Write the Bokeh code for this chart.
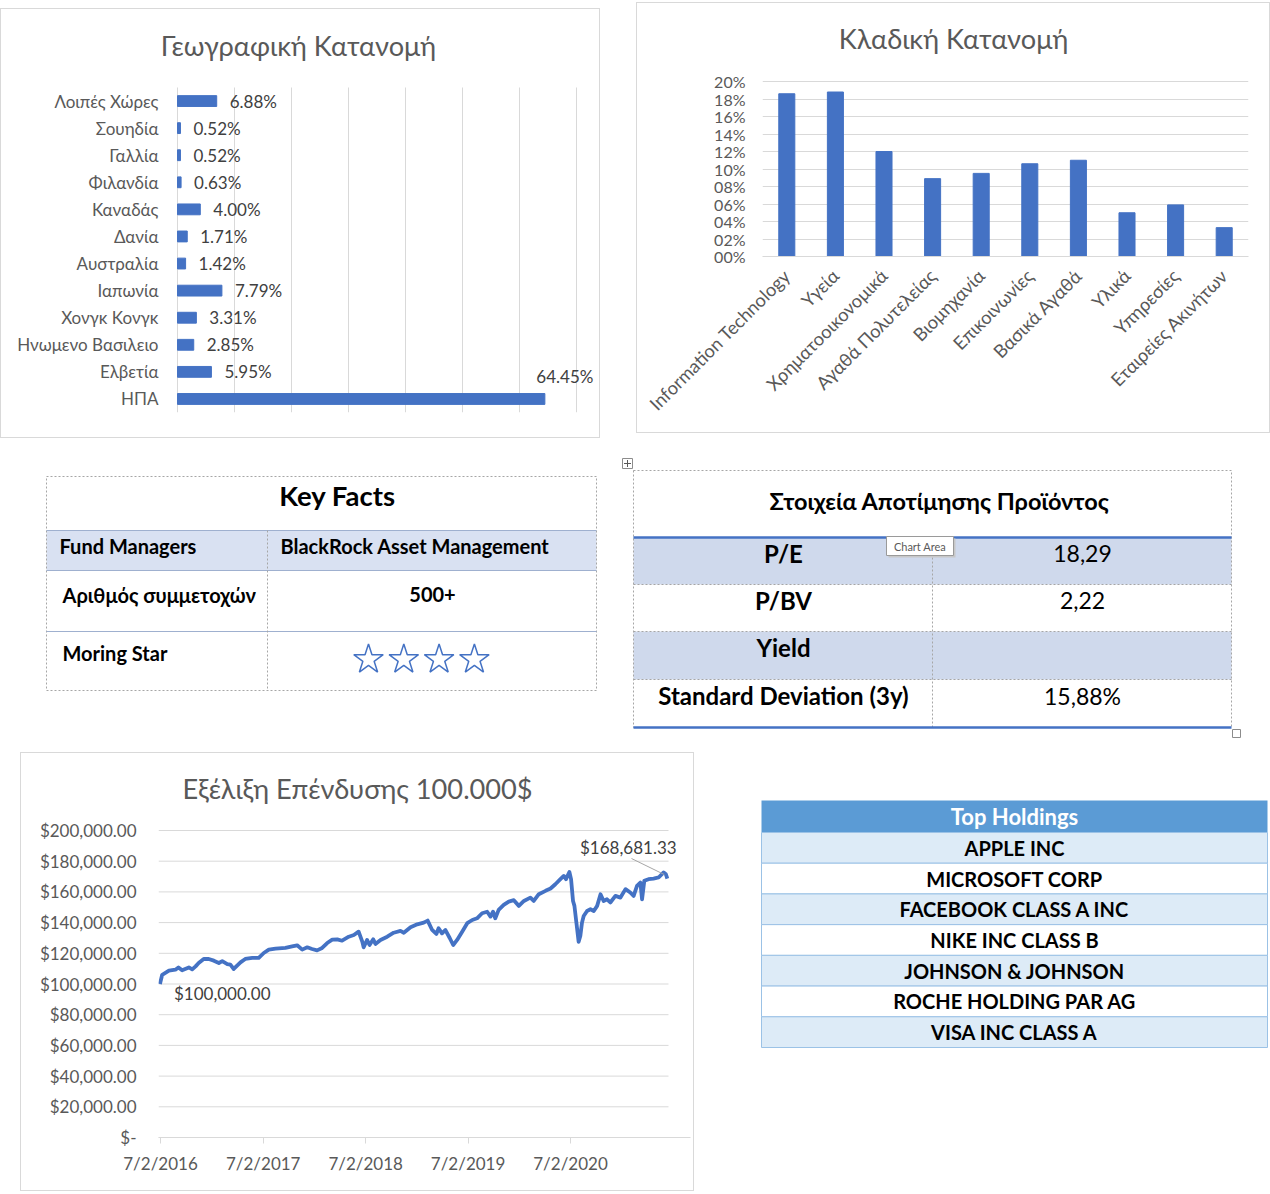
import math
from datetime import datetime, timezone
from bokeh.plotting import figure
from bokeh.models import Range1d, FactorRange, FixedTicker, CustomJSTickFormatter, Spacer
from bokeh.layouts import row, column
from bokeh.core.properties import value
from bokeh.embed import file_html
from bokeh.resources import INLINE

FONT = "Lato"
BLUE = "#4472C4"
GRID = "#d9d9d9"
AXIS_TXT = "#595959"
LABEL_TXT = "#404040"
TITLE_SIZE = "27.2px"

# ---------------- data ----------------
countries = ["Λοιπές Χώρες", "Σουηδία", "Γαλλία", "Φιλανδία", "Καναδάς", "Δανία",
             "Αυστραλία", "Ιαπωνία", "Χονγκ Κονγκ", "Ηνωμενο Βασιλειο", "Ελβετία", "ΗΠΑ"]
country_pct = [6.88, 0.52, 0.52, 0.63, 4.00, 1.71, 1.42, 7.79, 3.31, 2.85, 5.95, 64.45]

sectors = ["Information Technology", "Υγεία", "Χρηματοοικονομικά", "Αγαθά Πολυτελείας",
           "Βιομηχανία", "Επικοινωνίες", "Βασικά Αγαθά", "Υλικά", "Υπηρεσίες", "Εταιρείες Ακινήτων"]
sector_pct = [18.6, 18.8, 12.0, 8.9, 9.5, 10.6, 11.0, 5.0, 5.9, 3.3]

inv_dates = [
    "2016-02-05", "2016-02-13", "2016-03-08", "2016-03-31", "2016-04-11", "2016-04-24",
    "2016-05-18", "2016-05-30", "2016-06-11", "2016-06-22", "2016-07-10", "2016-07-28",
    "2016-08-15", "2016-09-02", "2016-09-14", "2016-10-02", "2016-10-13", "2016-10-25",
    "2016-11-06", "2016-11-18", "2016-12-05", "2016-12-30", "2017-01-22", "2017-02-09",
    "2017-02-27", "2017-03-23", "2017-04-27", "2017-05-21", "2017-06-08", "2017-06-26",
    "2017-07-14", "2017-07-31", "2017-08-18", "2017-09-05", "2017-09-23", "2017-10-11",
    "2017-10-29", "2017-11-15", "2017-12-09", "2017-12-27", "2018-01-13", "2018-01-26",
    "2018-01-31", "2018-02-12", "2018-02-21", "2018-03-06", "2018-03-14", "2018-04-01",
    "2018-04-25", "2018-05-18", "2018-06-11", "2018-06-23", "2018-07-17", "2018-08-10",
    "2018-09-02", "2018-09-16", "2018-10-02", "2018-10-17", "2018-10-25", "2018-11-06",
    "2018-11-18", "2018-12-04", "2018-12-16", "2018-12-30", "2019-01-17", "2019-02-04",
    "2019-02-22", "2019-03-11", "2019-03-29", "2019-04-16", "2019-04-28", "2019-05-07",
    "2019-05-15", "2019-05-27", "2019-06-14", "2019-07-02", "2019-07-20", "2019-08-07",
    "2019-08-25", "2019-09-17", "2019-09-29", "2019-10-17", "2019-11-10", "2019-11-28",
    "2019-12-15", "2020-01-02", "2020-01-14", "2020-01-22", "2020-02-03", "2020-02-09",
    "2020-02-16", "2020-02-21", "2020-02-28", "2020-03-07", "2020-03-13", "2020-03-19",
    "2020-03-25", "2020-04-06", "2020-04-18", "2020-04-30", "2020-05-12", "2020-05-24",
    "2020-06-04", "2020-06-16", "2020-06-28", "2020-07-16", "2020-08-03", "2020-08-21",
    "2020-09-07", "2020-09-19", "2020-10-01", "2020-10-13", "2020-10-19", "2020-10-27",
    "2020-11-11", "2020-11-29", "2020-12-17", "2021-01-04", "2021-01-12", "2021-01-17",
]
inv_value = [
    100000.00, 106000, 108700, 109300, 110800, 108900,
    110800, 109500, 111500, 113700, 116300, 116300,
    115200, 113700, 114900, 113000, 112600, 109800,
    112000, 114100, 116300, 117000, 117000, 120200,
    122400, 123000, 123500, 124500, 125200, 122400,
    123900, 122800, 121900, 123500, 126700, 128900,
    129100, 128200, 130800, 131900, 134100, 127600,
    123900, 128700, 125400, 129100, 126100, 128700,
    130800, 133400, 134600, 133400, 137000, 138900,
    140000, 141300, 135200, 132600, 136300, 133000,
    135200, 129800, 125400, 128700, 134100, 139600,
    141700, 142800, 146100, 147100, 143900, 147100,
    142800, 148300, 151500, 153700, 154600, 150900,
    154100, 156300, 154100, 158500, 160700, 162200,
    165000, 168300, 170400, 168300, 173000, 168300,
    154100, 150900, 140000, 127500, 131300, 140000,
    144300, 147600, 148700, 147600, 150900, 158500,
    154100, 155200, 153100, 157400, 156300, 161800,
    159600, 157400, 163900, 166100, 155200, 167200,
    168300, 168700, 169400, 172700, 171500, 168681.33,
]
year_ticks = ["2016-02-07", "2017-02-07", "2018-02-07", "2019-02-07", "2020-02-07"]
value_ticks = [0, 20000, 40000, 60000, 80000, 100000, 120000, 140000, 160000, 180000, 200000]
share_ticks = [0.0, 0.1, 0.2, 0.3, 0.4, 0.5, 0.6, 0.7]
sector_ticks = [0.0, 0.02, 0.04, 0.06, 0.08, 0.10, 0.12, 0.14, 0.16, 0.18, 0.20]

kf_title = "Key Facts"
kf_labels = ["Fund Managers", "Αριθμός συμμετοχών", "Moring Star"]
kf_values = ["BlackRock Asset Management", "500+", ""]
kf_stars = 4

val_title = "Στοιχεία Αποτίμησης Προϊόντος"
val_labels = ["P/E", "P/BV", "Yield", "Standard Deviation (3y)"]
val_values = ["18,29", "2,22", "", "15,88%"]

holdings_title = "Top Holdings"
holdings = ["APPLE INC", "MICROSOFT CORP", "FACEBOOK CLASS A INC", "NIKE INC CLASS B",
            "JOHNSON & JOHNSON", "ROCHE HOLDING PAR AG", "VISA INC CLASS A"]


def ms(s):
    d = datetime.strptime(s, "%Y-%m-%d").replace(tzinfo=timezone.utc)
    return d.timestamp() * 1000.0


BOX = {"outline": "1px solid #d9d9d9"}

# ---------------- Geographic allocation (horizontal bars) ----------------
# element box on the page: x 1..599, y 9..437
G_X0, G_Y0, G_W, G_H = 1, 9, 598, 428
G_FL, G_FR, G_FT, G_FB = 152, 597, 10, 412      # frame edges (page px)
G_ZERO = 177                                     # page x of the 0 % line
G_LABEL_END = 158                                # page x where category names end
G_BAND_TOP = 87                                  # top of first category band
G_PX_X = 570.0                                   # px per 100 %
n_c = len(countries)
band = (G_FB - G_BAND_TOP) / n_c
geo_pos = list(range(n_c - 1, -1, -1))           # first country on top
geo = figure(width=G_W, height=G_H, title=None,
             x_range=Range1d((G_FL - G_ZERO) / G_PX_X, (G_FR - G_ZERO) / G_PX_X),
             y_range=Range1d(-0.5, n_c - 0.5 + (G_BAND_TOP - G_FT) / band),
             toolbar_location=None, output_backend="svg",
             min_border_left=G_FL - G_X0, min_border_right=G_X0 + G_W - G_FR,
             min_border_top=G_FT - G_Y0, min_border_bottom=G_Y0 + G_H - G_FB)
geo.outline_line_color = None
geo.styles = BOX
geo.xaxis.visible = False
geo.xgrid.grid_line_color = None
geo.ygrid.grid_line_color = None
geo.segment(x0=share_ticks, x1=share_ticks, y0=[-0.5] * len(share_ticks),
            y1=[n_c - 0.5] * len(share_ticks), line_color=GRID, line_width=1)
geo.yaxis.ticker = FixedTicker(ticks=geo_pos)
geo.yaxis.formatter = CustomJSTickFormatter(
    args=dict(names=countries), code="return names[names.length - 1 - Math.round(tick)];")
geo.yaxis.axis_line_color = None
geo.yaxis.major_tick_line_color = None
geo.yaxis.major_tick_in = 0
geo.yaxis.major_tick_out = 0
geo.yaxis.major_label_standoff = G_FL - G_LABEL_END
geo.yaxis.major_label_text_font = FONT
geo.yaxis.major_label_text_font_size = "17px"
geo.yaxis.major_label_text_color = AXIS_TXT

geo_share = [v / 100 for v in country_pct]
geo.hbar(y=geo_pos, left=0, right=geo_share, height=0.4, color=BLUE)
geo.text(x=geo_share[:-1], y=geo_pos[:-1], text=[f"{v:.2f}%" for v in country_pct[:-1]],
         x_offset=13, text_align="left", text_baseline="middle",
         text_font=value(FONT), text_font_size="17px", text_color=LABEL_TXT)
geo.text(x=geo_share[-1:], y=geo_pos[-1:], text=[f"{country_pct[-1]:.2f}%"],
         x_offset=20, y_offset=-22, text_align="center", text_baseline="middle",
         text_font=value(FONT), text_font_size="17px", text_color=LABEL_TXT)
geo.text(x=[(298 - G_ZERO) / G_PX_X], y=[n_c - 0.5 + (G_BAND_TOP - 45) / band],
         text=["Γεωγραφική Κατανομή"], text_align="center", text_baseline="middle",
         text_font=value(FONT), text_font_size=TITLE_SIZE, text_color=AXIS_TXT)

# ---------------- Sector allocation (vertical bars) ----------------
# element box: x 637..1269, y 3..432
S_X0, S_Y0, S_W, S_H = 637, 3, 632, 429
S_FL, S_FR, S_FT, S_FB = 762, 1248, 4, 256
S_TOP20 = 81                                     # page y of the 20 % gridline
s_px = (S_FB - S_TOP20) / 0.20
sector = figure(width=S_W, height=S_H, title=None,
                x_range=FactorRange(factors=sectors),
                y_range=Range1d(0, 0.20 + (S_TOP20 - S_FT) / s_px),
                toolbar_location=None, output_backend="svg",
                min_border_left=S_FL - S_X0, min_border_right=S_X0 + S_W - S_FR,
                min_border_top=S_FT - S_Y0, min_border_bottom=S_Y0 + S_H - S_FB)
sector.outline_line_color = None
sector.styles = BOX
sector.xgrid.grid_line_color = None
sector.ygrid.grid_line_color = GRID
sector.yaxis.ticker = FixedTicker(ticks=sector_ticks)
sector.yaxis.formatter = CustomJSTickFormatter(
    code="return String(Math.round(tick*100)).padStart(2,'0') + '%';")
sector.yaxis.axis_line_color = None
sector.yaxis.major_tick_line_color = None
sector.yaxis.major_tick_in = 0
sector.yaxis.major_tick_out = 0
sector.yaxis.major_label_standoff = 17
sector.xaxis.axis_line_color = GRID
sector.xaxis.major_tick_line_color = None
sector.xaxis.major_tick_in = 0
sector.xaxis.major_tick_out = 0
sector.xaxis.major_label_standoff = 16
sector.xaxis.major_label_orientation = math.pi / 4
for ax in (sector.xaxis, sector.yaxis):
    ax.major_label_text_font = FONT
    ax.major_label_text_color = AXIS_TXT
sector.yaxis.major_label_text_font_size = "16px"
sector.xaxis.major_label_text_font_size = "18.3px"
sector.vbar(x=sectors, top=[v / 100 for v in sector_pct], width=0.33, color=BLUE)
sector.text(x=[len(sectors) * (953 - S_FL) / (S_FR - S_FL)],
            y=[0.20 + (S_TOP20 - 38) / s_px], text=["Κλαδική Κατανομή"],
            text_align="center", text_baseline="middle",
            text_font=value(FONT), text_font_size=TITLE_SIZE, text_color=AXIS_TXT)

# ---------------- Investment growth line ----------------
# element box: x 21..693, y 753..1190
L_X0, L_Y0, L_W, L_H = 21, 753, 672, 437
L_FL, L_FR, L_FT, L_FB = 158, 690, 754, 1137
L_TOP = 830                      # page y of the $200,000 gridline
L_GRID_END = 668                 # page x where the gridlines stop
L_TICK0_PX = 160
DAYS_PER_PX = 1461 / 410.0
MS_PER_DAY = 86400000.0
t0 = ms(year_ticks[0])


def lx(px):
    return t0 + (px - L_TICK0_PX) * DAYS_PER_PX * MS_PER_DAY


def ly(py):
    return 200000.0 * (L_FB - py) / (L_FB - L_TOP)


line = figure(width=L_W, height=L_H, title=None, x_axis_type="datetime",
              x_range=Range1d(lx(L_FL), lx(L_FR)), y_range=Range1d(0, ly(L_FT)),
              toolbar_location=None, output_backend="svg",
              min_border_left=L_FL - L_X0, min_border_right=L_X0 + L_W - L_FR,
              min_border_top=L_FT - L_Y0, min_border_bottom=L_Y0 + L_H - L_FB)
line.outline_line_color = None
line.styles = BOX
line.xgrid.grid_line_color = None
line.ygrid.grid_line_color = None
line.segment(x0=[lx(L_FL)] * len(value_ticks), x1=[lx(L_GRID_END)] * len(value_ticks),
             y0=value_ticks, y1=value_ticks, line_color=GRID, line_width=1)
line.xaxis.ticker = FixedTicker(ticks=[ms(s) for s in year_ticks])
line.xaxis.formatter = CustomJSTickFormatter(
    code="const d = new Date(tick); return d.getUTCDate() + '/' + (d.getUTCMonth()+1) + '/' + d.getUTCFullYear();")
line.xaxis.axis_line_color = GRID
line.xaxis.major_tick_line_color = GRID
line.xaxis.major_tick_in = 0
line.xaxis.major_tick_out = 6
line.xaxis.major_label_standoff = 9
line.yaxis.ticker = FixedTicker(ticks=value_ticks)
line.yaxis.formatter = CustomJSTickFormatter(
    code="if (tick == 0) { return '$-'; } return '$' + tick.toLocaleString('en-US', {minimumFractionDigits: 2, maximumFractionDigits: 2});")
line.yaxis.axis_line_color = None
line.yaxis.major_tick_line_color = None
line.yaxis.major_tick_in = 0
line.yaxis.major_tick_out = 0
line.yaxis.major_label_standoff = 22
for ax in (line.xaxis, line.yaxis):
    ax.major_label_text_font = FONT
    ax.major_label_text_font_size = "17px"
    ax.major_label_text_color = AXIS_TXT
inv_x = [ms(s) for s in inv_dates]
line.line(x=inv_x, y=inv_value, line_width=3.8, line_color=BLUE, line_join="round")
line.text(x=inv_x[:1], y=inv_value[:1], text=[f"${inv_value[0]:,.2f}"], x_offset=14, y_offset=9,
          text_align="left", text_baseline="middle", text_font=value(FONT),
          text_font_size="17px", text_color=LABEL_TXT)
line.text(x=inv_x[-1:], y=inv_value[-1:], text=[f"${inv_value[-1]:,.2f}"], x_offset=-39, y_offset=-31,
          text_align="center", text_baseline="middle", text_font=value(FONT),
          text_font_size="17px", text_color=LABEL_TXT)
line.segment(x0=[lx(631)], y0=[ly(858)], x1=[inv_x[-1] - 3 * DAYS_PER_PX * MS_PER_DAY],
             y1=[inv_value[-1] + 4 * 200000 / (L_FB - L_TOP)], line_color="#a6a6a6", line_width=1)
line.text(x=[lx(357)], y=[ly(788)], text=["Εξέλιξη Επένδυσης 100.000$"],
          text_align="center", text_baseline="middle", text_font=value(FONT),
          text_font_size=TITLE_SIZE, text_color=AXIS_TXT)


# ---------------- tables ----------------
def table_fig(w, h):
    p = figure(width=w, height=h, title=None, x_range=Range1d(0, w), y_range=Range1d(h, 0),
               toolbar_location=None, output_backend="svg", x_axis_type=None, y_axis_type=None,
               min_border=0)
    p.outline_line_color = None
    return p


def txt(p, xs, ys, texts, size, bold=True, align="center", color="black"):
    p.text(x=xs, y=ys, text=texts, text_align=align, text_baseline="middle",
           text_font=value(FONT), text_font_size=size,
           text_font_style="bold" if bold else "normal", text_color=color)


# Key facts  (figure at page 40,470)
kf = table_fig(570, 230)
KF_L, KF_R, KF_COL = 6, 556, 227
kf_edges = [6, 60, 100, 161, 220]
kf.quad(left=[KF_L], right=[KF_R], top=[kf_edges[1]], bottom=[kf_edges[2]],
        fill_color="#D9E1F2", line_color=None)
kf.quad(left=[KF_L], right=[KF_R], top=[kf_edges[0]], bottom=[kf_edges[-1]],
        fill_color=None, line_color="#a6a6a6", line_dash="2 2", line_width=1)
kf.segment(x0=[KF_L] * 3, x1=[KF_R] * 3, y0=kf_edges[1:4], y1=kf_edges[1:4],
           line_color="#9fb0cf", line_width=1)
kf.segment(x0=[KF_COL], x1=[KF_COL], y0=[kf_edges[1]], y1=[kf_edges[-1]],
           line_color="#a6a6a6", line_dash="2 2", line_width=1)
txt(kf, [297], [25], [kf_title], "27.5px")
kf_text_y = [75, 124, 182]
txt(kf, [19, 22, 22], kf_text_y, kf_labels, "20px", align="left")
txt(kf, [240], kf_text_y[:1], kf_values[:1], "20px", align="left")
txt(kf, [392], kf_text_y[1:2], kf_values[1:2], "20px")
kf.scatter(x=[328 + 35.3 * i for i in range(kf_stars)], y=[189] * kf_stars, marker="star",
           size=31, fill_color=None, line_color=BLUE, line_width=1.5)

# Valuation (figure at page 615,455)
val = table_fig(647, 290)
V_L, V_R, V_COL = 18, 616, 317
v_edges = [82, 129, 176, 224, 272]
val.quad(left=[V_L, V_L], right=[V_R, V_R], top=[v_edges[0], v_edges[2]],
         bottom=[v_edges[1], v_edges[3]], fill_color="#CFD9EC", line_color=None)
val.quad(left=[V_L], right=[V_R], top=[15], bottom=[v_edges[-1]], fill_color=None,
         line_color="#a6a6a6", line_dash="2 2", line_width=1)
val.segment(x0=[V_L] * 3, x1=[V_R] * 3, y0=v_edges[1:4], y1=v_edges[1:4],
            line_color="#a6a6a6", line_dash="2 2", line_width=1)
val.segment(x0=[V_COL], x1=[V_COL], y0=[v_edges[0]], y1=[v_edges[-1]],
            line_color="#a6a6a6", line_dash="2 2", line_width=1)
val.segment(x0=[V_L, V_L], x1=[V_R, V_R], y0=[v_edges[0], v_edges[-1]], y1=[v_edges[0], v_edges[-1]],
            line_color=BLUE, line_width=2.5)
txt(val, [324], [45], [val_title], "23.5px")
val_text_y = [e + 16 for e in v_edges[:4]]
txt(val, [168] * 4, val_text_y, val_labels, "24px")
txt(val, [467] * 4, val_text_y, val_values, "23px", bold=False)
# editor artefacts: move handle, resize handle and "Chart Area" tooltip
val.quad(left=[7, 617], right=[17, 625], top=[3, 274], bottom=[13, 282],
         fill_color="white", line_color="#8c8c8c", line_width=1)
val.scatter(x=[12], y=[8], marker="cross", size=7, line_color="#595959", line_width=1)
val.quad(left=[273], right=[340], top=[83], bottom=[102], fill_color="#c8c8c8", line_color=None)
val.quad(left=[271], right=[338], top=[81], bottom=[100], fill_color="white",
         line_color="#9a9a9a", line_width=1)
txt(val, [304.5], [90.5], ["Chart Area"], "11px", bold=False, color=AXIS_TXT)

# Top holdings (figure at page 755,795)
th = table_fig(515, 260)
H_L, H_R, H_TOP, H_HEAD, H_ROW = 6, 512, 5, 37, (1047 - 832) / 7
H_CX = 259
h_tops = [H_HEAD + i * H_ROW for i in range(len(holdings))]
th.quad(left=[H_L], right=[H_R], top=[H_TOP], bottom=[H_HEAD], fill_color="#5B9BD5", line_color=None)
th.quad(left=[H_L] * len(holdings), right=[H_R] * len(holdings), top=h_tops,
        bottom=[t + H_ROW for t in h_tops],
        fill_color=["#DDEBF7" if i % 2 == 0 else "white" for i in range(len(holdings))],
        line_color="#9BC2E6", line_width=1)
txt(th, [H_CX], [(H_TOP + H_HEAD) / 2], [holdings_title], "22px", color="white")
txt(th, [H_CX] * len(holdings), [t + H_ROW / 2 for t in h_tops], holdings, "20px")

# ---------------- page layout (page origin at 0,0) ----------------
layout = column(
    row(Spacer(width=G_X0, height=1), column(Spacer(width=1, height=G_Y0), geo),
        Spacer(width=S_X0 - G_X0 - G_W, height=1), column(Spacer(width=1, height=S_Y0), sector)),
    row(Spacer(width=40, height=1), column(Spacer(width=1, height=470 - 437), kf),
        Spacer(width=5, height=1), column(Spacer(width=1, height=455 - 437), val)),
    row(Spacer(width=L_X0, height=1), column(Spacer(width=1, height=L_Y0 - 745), line),
        Spacer(width=755 - L_X0 - L_W, height=1), column(Spacer(width=1, height=795 - 745), th)),
)

open("out.html", "w").write(file_html(layout, INLINE))
